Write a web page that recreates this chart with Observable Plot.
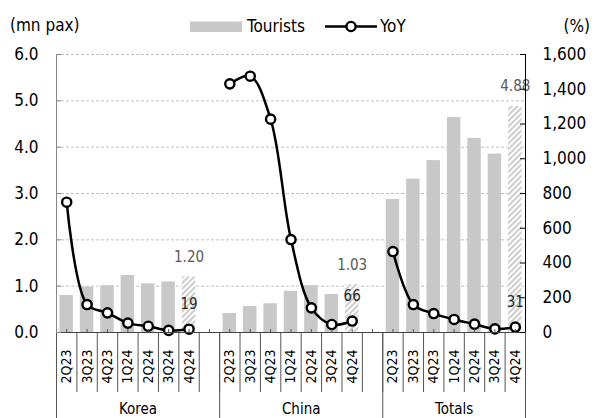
<!DOCTYPE html>
<html>
<head>
<meta charset="utf-8">
<script src="https://cdn.jsdelivr.net/npm/d3@7"></script>
<script src="https://cdn.jsdelivr.net/npm/@observablehq/plot@0.6"></script>
<style>
  html, body { margin: 0; padding: 0; background: #fff; }
  #chart { width: 611px; height: 418px; }
</style>
</head>
<body>
<div id="chart"></div>
<script>
// Visitor arrivals (mn pax) and year-on-year growth (%) by origin
const groups = ["Korea", "China", "Totals"];
const quarters = ["2Q23", "3Q23", "4Q23", "1Q24", "2Q24", "3Q24", "4Q24"];
const koreaTourists = [0.80, 0.98, 1.01, 1.23, 1.05, 1.09, 1.20];
const chinaTourists = [0.41, 0.56, 0.62, 0.89, 1.01, 0.82, 1.03];
const totalTourists = [2.87, 3.31, 3.71, 4.64, 4.19, 3.85, 4.88];
const koreaYoY = [750, 161, 113, 54, 36, 12, 19];
const chinaYoY = [1431, 1475, 1228, 535, 142, 46, 66];
const totalYoY = [466, 161, 109, 75, 48, 21, 31];
const hatchedQuarter = "4Q24";
const leftTicks = [0, 1, 2, 3, 4, 5, 6];
const rightTicks = [0, 200, 400, 600, 800, 1000, 1200, 1400, 1600];

const touristsBy = {Korea: koreaTourists, China: chinaTourists, Totals: totalTourists};
const yoyBy = {Korea: koreaYoY, China: chinaYoY, Totals: totalYoY};

// Layout
const W = 611, H = 418;
const mT = 54, mB = 86, mL = 56, mR = 86;
const plotW = W - mL - mR, plotH = H - mT - mB;
const FONT = '"DejaVu Sans Condensed", "DejaVu Sans", sans-serif';
const barColor = "#c8c8c8";

// Each group takes one slot per quarter plus one empty slot after it
const slotsPerGroup = quarters.length + 1;
const nSlots = groups.length * slotsPerGroup - 1;
const yMax = leftTicks[leftTicks.length - 1];
const yoyMax = rightTicks[rightTicks.length - 1];
const yoyToY = v => v * yMax / yoyMax;
const barInset = 0.17;

const rows = groups.flatMap((g, gi) => quarters.map((q, qi) => ({
  group: g,
  quarter: q,
  slot: gi * slotsPerGroup + qi,
  tourists: touristsBy[g][qi],
  yoy: yoyBy[g][qi]
})));
const latest = rows.filter(d => d.quarter === hatchedQuarter);

const groupEdges = [...groups.map((g, gi) => gi * slotsPerGroup), nSlots];
const groupSpans = groups.map((g, gi) => ({
  group: g,
  mid: (groupEdges[gi] + groupEdges[gi + 1]) / 2
}));

const chart = Plot.plot({
  width: W,
  height: H,
  marginTop: mT,
  marginBottom: mB,
  marginLeft: mL,
  marginRight: mR,
  style: {fontFamily: FONT, fontSize: "14px", color: "#000", background: "#fff"},
  x: {type: "linear", domain: [0, nSlots], axis: null, label: null},
  y: {domain: [0, yMax], axis: null, label: null},
  marks: [
    // dashed horizontal grid
    Plot.ruleY(leftTicks.slice(1), {stroke: "#c0c0c0", strokeDasharray: "3,2", strokeWidth: 1}),
    // tourist bars
    Plot.rectY(rows.filter(d => d.quarter !== hatchedQuarter), {
      x1: d => d.slot + barInset, x2: d => d.slot + 1 - barInset,
      y1: 0, y2: "tourists", fill: barColor
    }),
    Plot.rectY(latest, {
      x1: d => d.slot + barInset, x2: d => d.slot + 1 - barInset,
      y1: 0, y2: "tourists", fill: "url(#hatch)"
    }),
    // YoY line with markers
    Plot.line(rows, {
      x: d => d.slot + 0.5, y: d => yoyToY(d.yoy), z: "group",
      curve: "catmull-rom", stroke: "#000", strokeWidth: 2.5
    }),
    Plot.dot(rows, {
      x: d => d.slot + 0.5, y: d => yoyToY(d.yoy),
      r: 4.6, fill: "#fff", stroke: "#000", strokeWidth: 2.4
    }),
    // value labels for the latest quarter
    Plot.text(latest, {
      x: d => d.slot + 0.5, y: "tourists", text: d => d.tourists.toFixed(2),
      dy: -20, fill: "#595959", fontSize: 15
    }),
    Plot.text(latest, {
      x: d => d.slot + 0.5, y: d => yoyToY(d.yoy), text: d => String(d.yoy),
      dy: -25, fill: "#262626", fontSize: 15
    }),
    // category axis: slot separators, center ticks, quarter and group labels
    Plot.ruleX(d3.range(nSlots + 1), {insetTop: plotH, insetBottom: -60, stroke: "#555"}),
    Plot.ruleX(groupEdges, {insetTop: plotH, insetBottom: -mB, stroke: "#555"}),
    Plot.ruleX(d3.range(nSlots).map(i => i + 0.5), {insetTop: plotH - 3, stroke: "#555"}),
    Plot.text(rows, {
      x: d => d.slot + 0.5, frameAnchor: "bottom", text: "quarter",
      rotate: -90, textAnchor: "end", lineAnchor: "middle", dy: 17,
      fontSize: 14, fill: "#000"
    }),
    Plot.text(groupSpans, {
      x: "mid", frameAnchor: "bottom", text: "group",
      lineAnchor: "top", dy: 71, fontSize: 15, fill: "#000"
    }),
    // axis lines
    Plot.ruleY([0], {stroke: "#444"}),
    Plot.ruleX([0], {stroke: "#888"}),
    Plot.ruleX([nSlots], {stroke: "#000"}),
    // inward tick marks
    Plot.ruleY(leftTicks, {insetRight: plotW - 5, stroke: "#888"}),
    Plot.ruleY(rightTicks.map(yoyToY), {insetLeft: plotW - 5, stroke: "#000"}),
    // tick labels
    Plot.axisY({
      anchor: "left", ticks: leftTicks, tickFormat: d3.format(".1f"),
      tickSize: 0, tickPadding: 18, fontSize: 17, label: null
    }),
    Plot.axisY({
      anchor: "right", ticks: rightTicks.map(yoyToY),
      tickFormat: d => d3.format(",")(Math.round(d * yoyMax / yMax)),
      tickSize: 0, tickPadding: 17, fontSize: 17, label: null
    })
  ]
});

// hatch pattern for the latest-quarter bars
const svg = d3.select(chart);
const defs = svg.insert("defs", ":first-child");
const pat = defs.append("pattern")
  .attr("id", "hatch")
  .attr("patternUnits", "userSpaceOnUse")
  .attr("width", 4).attr("height", 4)
  .attr("patternTransform", "rotate(45)");
pat.append("rect").attr("width", 4).attr("height", 4).attr("fill", "#fff");
pat.append("line").attr("x1", 1).attr("y1", 0).attr("x2", 1).attr("y2", 4)
  .attr("stroke", barColor).attr("stroke-width", 1.8);

// legend and unit captions
const legend = svg.append("g")
  .attr("font-family", FONT).attr("font-size", 17)
  .attr("fill", "#000").attr("text-anchor", "start");
legend.append("text").attr("x", 10).attr("y", 31).text("(mn pax)");
legend.append("text").attr("x", 590).attr("y", 32).attr("text-anchor", "end").text("(%)");
legend.append("rect").attr("x", 190).attr("y", 21.5).attr("width", 52).attr("height", 10.5).attr("fill", barColor);
legend.append("text").attr("x", 247).attr("y", 32).text("Tourists");
legend.append("line").attr("x1", 325).attr("x2", 377).attr("y1", 26.5).attr("y2", 26.5)
  .attr("stroke", "#000").attr("stroke-width", 2.5);
legend.append("circle").attr("cx", 351).attr("cy", 26.5).attr("r", 4.6)
  .attr("fill", "#fff").attr("stroke", "#000").attr("stroke-width", 2.4);
legend.append("text").attr("x", 380).attr("y", 32).text("YoY");

document.getElementById("chart").append(chart);
</script>
</body>
</html>
